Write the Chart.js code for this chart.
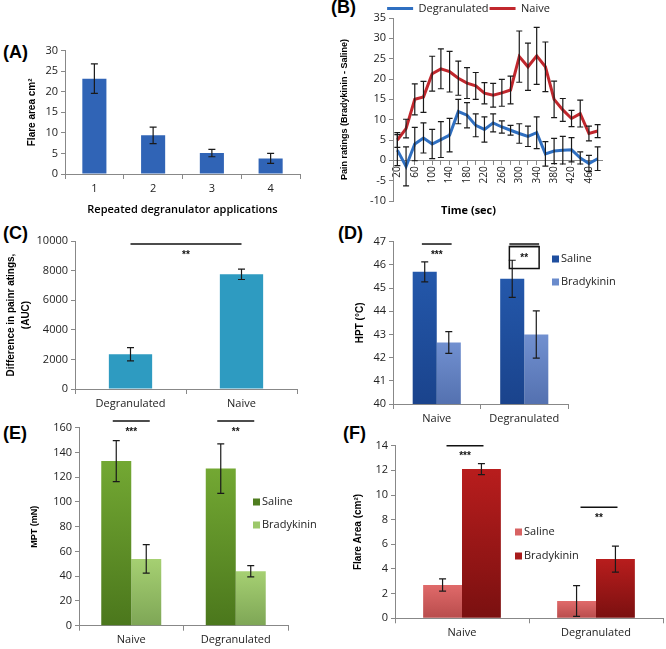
<!DOCTYPE html>
<html>
<head>
<meta charset="utf-8">
<script src="https://cdn.jsdelivr.net/npm/chart.js@4.4.1/dist/chart.umd.min.js"></script>
<style>
  body { margin: 0; background: #fff; width: 666px; height: 649px; position: relative; overflow: hidden; }
  canvas { position: absolute; }
  .tag { position: absolute; font: bold 18px "Liberation Sans", Arial, sans-serif; color: #000; }
</style>
</head>
<body>
<div class="tag" style="left:3px;top:42px">(A)</div>
<div class="tag" style="left:331px;top:-3px">(B)</div>
<div class="tag" style="left:3px;top:223px">(C)</div>
<div class="tag" style="left:338px;top:223px">(D)</div>
<div class="tag" style="left:3px;top:423px">(E)</div>
<div class="tag" style="left:343px;top:423px">(F)</div>

<canvas id="chartA" width="310" height="185" style="left:0;top:35px"></canvas>
<canvas id="chartB" width="336" height="225" style="left:330px;top:0"></canvas>
<canvas id="chartC" width="310" height="187" style="left:0;top:225px"></canvas>
<canvas id="chartD" width="336" height="205" style="left:330px;top:225px"></canvas>
<canvas id="chartE" width="330" height="237" style="left:0;top:412px"></canvas>
<canvas id="chartF" width="336" height="224" style="left:330px;top:425px"></canvas>

<script>
// (A) flare area after repeated degranulator applications
const applications = ['1', '2', '3', '4'];
const flareRepeat = [23.2, 9.4, 5.1, 3.8];
const flareRepeatErr = [3.6, 2.0, 0.9, 1.2];

// (B) pain ratings over time
const timeSec = ['20','40','60','80','100','120','140','160','180','200','220','240',
                 '260','280','300','320','340','360','380','400','420','440','460','480'];
const degranPain = [2.5, -1.5, 4.0, 5.5, 4.0, 5.1, 6.2, 12.0, 11.1, 8.6, 7.6, 9.2,
                    8.2, 7.4, 6.6, 5.9, 6.8, 1.6, 2.3, 2.5, 2.6, 0.6, -0.8, 0.4];
const degranPainErr = [3.8, 4.8, 4.1, 3.7, 3.6, 4.4, 4.1, 3.0, 3.1, 2.8, 3.1, 2.2,
                       1.5, 1.2, 2.4, 2.5, 3.9, 3.0, 3.1, 3.4, 3.0, 1.5, 2.0, 2.9];
const naivePain = [5.0, 7.8, 15.0, 15.6, 21.3, 22.5, 21.8, 20.2, 19.0, 18.3, 16.5, 16.0,
                   16.6, 17.3, 25.5, 23.0, 25.7, 23.0, 15.0, 12.4, 10.3, 11.5, 6.6, 7.2];
const naivePainErr = [1.8, 2.3, 3.8, 3.8, 4.3, 4.9, 5.0, 4.2, 3.8, 3.3, 2.6, 2.9,
                      3.3, 3.4, 6.3, 5.8, 7.0, 6.1, 4.5, 2.8, 2.0, 3.3, 1.8, 1.6];

// (C) area under curve
const aucGroups = ['Degranulated', 'Naive'];
const aucValues = [2350, 7750];
const aucErr = [450, 350];
const aucSig = [9800];
const aucSigText = ['**'];

// (D)-(F) saline vs bradykinin
const groups = ['Naive', 'Degranulated'];
const hptSaline = [45.7, 45.4];
const hptSalineErr = [0.43, 0.8];
const hptBrady = [42.65, 43.0];
const hptBradyErr = [0.47, 1.02];
const hptSig = [46.9, 46.9];
const hptSigText = ['***', '**'];

const mptSaline = [133, 127];
const mptSalineErr = [16.5, 20];
const mptBrady = [54, 44];
const mptBradyErr = [11.5, 4.5];
const mptSig = [165.5, 165.5];
const mptSigText = ['***', '**'];

const flareSaline = [2.7, 1.4];
const flareSalineErr = [0.5, 1.25];
const flareBrady = [12.1, 4.8];
const flareBradyErr = [0.45, 1.05];
const flareSig = [14, 9];
const flareSigText = ['***', '**'];

const SANS = '"Open Sans", sans-serif';
const ARIAL = '"Liberation Sans", Arial, sans-serif';
Chart.defaults.font.family = SANS;
Chart.defaults.font.size = 11;
Chart.defaults.color = '#222';

// error bars drawn through the y scale
const errorBars = {
  id: 'errorBars',
  afterDatasetsDraw(chart) {
    const ctx = chart.ctx, ys = chart.scales.y;
    chart.data.datasets.forEach((ds, i) => {
      if (!ds.errors) return;
      const meta = chart.getDatasetMeta(i);
      ctx.save();
      ctx.strokeStyle = '#1a1a1a';
      ctx.lineWidth = 1.2;
      meta.data.forEach((el, j) => {
        const v = ds.data[j], e = ds.errors[j];
        const top = ys.getPixelForValue(v + e), bot = ys.getPixelForValue(v - e);
        const x = el.x, w = ds.capWidth || 3.5;
        ctx.beginPath();
        ctx.moveTo(x, top); ctx.lineTo(x, bot);
        ctx.moveTo(x - w, top); ctx.lineTo(x + w, top);
        ctx.moveTo(x - w, bot); ctx.lineTo(x + w, bot);
        ctx.stroke();
      });
      ctx.restore();
    });
  }
};

// significance lines with stars
const sigBars = {
  id: 'sigBars',
  afterDraw(chart, args, opts) {
    if (!opts.items) return;
    const xs = chart.scales.x, ys = chart.scales.y, ctx = chart.ctx;
    const cw = xs.width / chart.data.labels.length;
    ctx.save();
    ctx.strokeStyle = '#111';
    ctx.fillStyle = '#111';
    ctx.lineWidth = 1.5;
    ctx.font = 'bold 10px ' + ARIAL;
    ctx.textAlign = 'center';
    ctx.textBaseline = 'middle';
    opts.items.forEach(it => {
      const x0 = xs.getPixelForValue(it.from) - opts.half * cw + (opts.shift || 0);
      const x1 = xs.getPixelForValue(it.to) + opts.half * cw + (opts.shift || 0);
      const y = ys.getPixelForValue(it.value);
      ctx.beginPath();
      ctx.moveTo(x0, y); ctx.lineTo(x1, y);
      ctx.stroke();
      if (it.box) {
        ctx.beginPath();
        ctx.moveTo(x0, y + 2.5); ctx.lineTo(x1, y + 2.5);
        ctx.stroke();
        ctx.strokeRect(x0, y + 2.5, x1 - x0, 22);
      }
      ctx.fillText(it.text, (x0 + x1) / 2, y + (it.box ? 14 : 11));
    });
    ctx.restore();
  }
};

// small square legend placed inside the plot
const sideLegend = {
  id: 'sideLegend',
  afterDraw(chart, args, opts) {
    if (opts.x === undefined) return;
    const ctx = chart.ctx;
    ctx.save();
    ctx.font = '11px ' + SANS;
    ctx.textBaseline = 'middle';
    chart.data.datasets.forEach((ds, i) => {
      const y = opts.y + i * opts.gap;
      ctx.fillStyle = ds.swatch;
      ctx.fillRect(opts.x, y - 3.5, 7, 7);
      ctx.fillStyle = '#222';
      ctx.fillText(ds.label, opts.x + 9, y);
    });
    ctx.restore();
  }
};

Chart.register(errorBars, sigBars, sideLegend);

// vertical gradient per bar
function barGrad(top, bottom) {
  return (c) => {
    const chart = c.chart, area = chart.chartArea;
    if (!area || c.raw === undefined) return top;
    const y = chart.scales.y.getPixelForValue(c.raw);
    const g = chart.ctx.createLinearGradient(0, y, 0, area.bottom);
    g.addColorStop(0, top);
    g.addColorStop(1, bottom);
    return g;
  };
}

function yAxis(min, max, step, width, title, titleFont) {
  return {
    min: min, max: max,
    ticks: { stepSize: step, padding: 3, callback: v => String(v) },
    grid: { drawOnChartArea: false, tickLength: 4, color: '#888' },
    border: { color: '#888' },
    title: { display: true, text: title, font: titleFont, padding: { top: 4, bottom: 0 }, color: '#000' },
    afterFit: s => { s.width = width; }
  };
}

function xAxis(height, title) {
  const ax = {
    ticks: { padding: 3 },
    grid: { drawOnChartArea: false, tickLength: 5, color: '#888', offset: true },
    border: { color: '#888' },
    afterFit: s => { s.height = height; }
  };
  if (title) ax.title = title;
  return ax;
}

function sigItems(levels, texts, boxes) {
  return levels.map((v, i) => ({ from: i, to: i, value: v, text: texts[i], box: boxes && boxes[i] }));
}

const common = {
  responsive: false,
  animation: false,
  events: []
};

// (A)
new Chart(document.getElementById('chartA'), {
  type: 'bar',
  data: {
    labels: applications,
    datasets: [{ data: flareRepeat, errors: flareRepeatErr, backgroundColor: '#3064b6',
                 barPercentage: 0.41, categoryPercentage: 1 }]
  },
  options: {
    ...common,
    layout: { padding: { left: 22, right: 10, top: 15.7, bottom: 0 } },
    plugins: { legend: { display: false } },
    scales: {
      x: xAxis(46, { display: true, text: 'Repeated degranulator applications',
                     font: { size: 11, weight: '600' }, padding: { top: 0, bottom: 4 }, color: '#000' }),
      y: yAxis(0, 30, 5, 43, 'Flare area cm²', { family: ARIAL, size: 10, weight: 'bold' })
    }
  }
});

// (B)
new Chart(document.getElementById('chartB'), {
  type: 'line',
  data: {
    labels: timeSec,
    datasets: [
      { label: 'Degranulated', data: degranPain, errors: degranPainErr, capWidth: 3,
        borderColor: '#2f6fc1', backgroundColor: '#2f6fc1', borderWidth: 3, pointRadius: 0, tension: 0 },
      { label: 'Naive', data: naivePain, errors: naivePainErr, capWidth: 3,
        borderColor: '#c1272d', backgroundColor: '#c1272d', borderWidth: 3, pointRadius: 0, tension: 0 }
    ]
  },
  options: {
    ...common,
    layout: { padding: { left: 5, right: 64, top: 2, bottom: 4.8 } },
    plugins: {
      legend: {
        position: 'top',
        maxHeight: 16,
        labels: { usePointStyle: true, pointStyle: 'line', pointStyleWidth: 26, padding: 1,
                  font: { size: 11 }, color: '#222' }
      },
      title: { display: true, position: 'bottom', text: 'Time (sec)',
               font: { size: 11, weight: 'bold' }, padding: { top: 3, bottom: 3 }, color: '#000' }
    },
    scales: {
      x: {
        type: 'category',
        position: { y: 0 },
        offset: true,
        ticks: {
          autoSkip: false, minRotation: 90, maxRotation: 90, padding: 2, font: { size: 10 },
          callback: function (v, i) { return i % 2 ? '' : this.getLabelForValue(v); }
        },
        grid: { drawOnChartArea: false, tickLength: 4, color: '#888', offset: false },
        border: { color: '#888' }
      },
      y: yAxis(-10, 35, 5, 58, 'Pain ratings (Bradykinin - Saline)', { family: ARIAL, size: 9, weight: 'bold' })
    }
  }
});

// (C)
new Chart(document.getElementById('chartC'), {
  type: 'bar',
  data: {
    labels: aucGroups,
    datasets: [{ data: aucValues, errors: aucErr, backgroundColor: '#2e9bc1',
                 barPercentage: 0.39, categoryPercentage: 1 }]
  },
  options: {
    ...common,
    layout: { padding: { left: 0, right: 13, top: 16, bottom: 0 } },
    plugins: {
      legend: { display: false },
      sigBars: { half: 0, items: aucSig.map((v, i) => ({ from: 0, to: 1, value: v, text: aucSigText[i] })) }
    },
    scales: {
      x: xAxis(23),
      y: yAxis(0, 10000, 2000, 75, ['Difference in painr atings,', '(AUC)'],
               { family: ARIAL, size: 10, weight: 'bold', lineHeight: 1.5 })
    }
  }
});

// (D)
new Chart(document.getElementById('chartD'), {
  type: 'bar',
  data: {
    labels: groups,
    datasets: [
      { label: 'Saline', data: hptSaline, errors: hptSalineErr, swatch: '#1f4f9f',
        backgroundColor: barGrad('#2458ab', '#1a438c'), barPercentage: 1, categoryPercentage: 0.55 },
      { label: 'Bradykinin', data: hptBrady, errors: hptBradyErr, swatch: '#6a8bcc',
        backgroundColor: barGrad('#7190d0', '#5471b0'), barPercentage: 1, categoryPercentage: 0.55 }
    ]
  },
  options: {
    ...common,
    layout: { padding: { left: 20, right: 98, top: 16.7, bottom: 0 } },
    plugins: {
      legend: { display: false },
      sigBars: { half: 0.17, items: sigItems(hptSig, hptSigText, [false, true]) },
      sideLegend: { x: 222, y: 34, gap: 23 }
    },
    scales: {
      x: xAxis(26),
      y: yAxis(40, 47, 1, 43, 'HPT (°C)', { family: ARIAL, size: 10, weight: 'bold' })
    }
  }
});

// (E)
new Chart(document.getElementById('chartE'), {
  type: 'bar',
  data: {
    labels: groups,
    datasets: [
      { label: 'Saline', data: mptSaline, errors: mptSalineErr, swatch: '#4f7d1f',
        backgroundColor: barGrad('#73a833', '#4b771c'), barPercentage: 1, categoryPercentage: 0.574 },
      { label: 'Bradykinin', data: mptBrady, errors: mptBradyErr, swatch: '#9cc86a',
        backgroundColor: barGrad('#a6d072', '#7ea656'), barPercentage: 1, categoryPercentage: 0.574 }
    ]
  },
  options: {
    ...common,
    layout: { padding: { left: 25, right: 42, top: 15.7, bottom: 0 } },
    plugins: {
      legend: { display: false },
      sigBars: { half: 0.177, items: sigItems(mptSig, mptSigText) },
      sideLegend: { x: 253, y: 90, gap: 23 }
    },
    scales: {
      x: xAxis(23.3),
      y: yAxis(0, 160, 20, 54, 'MPT (mN)', { family: ARIAL, size: 9, weight: 'bold' })
    }
  }
});

// (F)
new Chart(document.getElementById('chartF'), {
  type: 'bar',
  data: {
    labels: groups,
    datasets: [
      { label: 'Saline', data: flareSaline, errors: flareSalineErr, swatch: '#d86262',
        backgroundColor: barGrad('#e06a6a', '#b84c4c'), barPercentage: 1, categoryPercentage: 0.58 },
      { label: 'Bradykinin', data: flareBrady, errors: flareBradyErr, swatch: '#a81b1b',
        backgroundColor: barGrad('#b81d1d', '#7a1010'), barPercentage: 1, categoryPercentage: 0.58 }
    ]
  },
  options: {
    ...common,
    layout: { padding: { left: 18, right: 3, top: 20.7, bottom: 0 } },
    plugins: {
      legend: { display: false },
      sigBars: { half: 0.138, shift: 3, items: sigItems(flareSig, flareSigText) },
      sideLegend: { x: 185, y: 107, gap: 24 }
    },
    scales: {
      x: xAxis(30.7),
      y: yAxis(0, 14, 2, 47, 'Flare Area (cm²)', { family: ARIAL, size: 10, weight: 'bold' })
    }
  }
});
</script>
</body>
</html>
